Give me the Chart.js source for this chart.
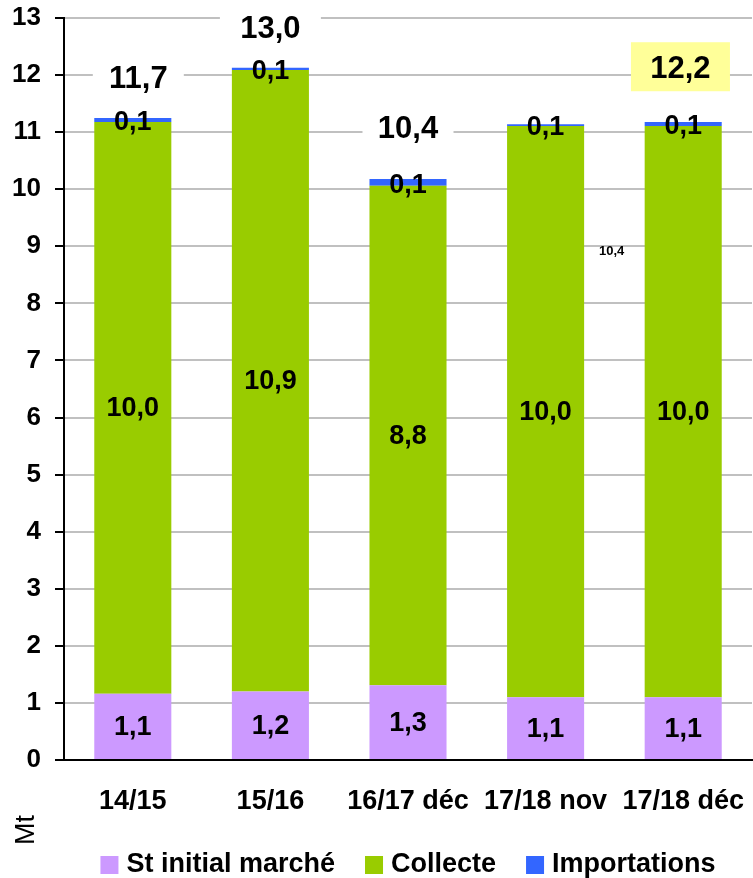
<!DOCTYPE html>
<html>
<head>
<meta charset="utf-8">
<script src="https://cdn.jsdelivr.net/npm/chart.js@4/dist/chart.umd.min.js"></script>
<style>
  html, body { margin: 0; padding: 0; background: #fff; }
  #wrap { width: 753px; height: 878px; position: relative; }
</style>
</head>
<body>
<div id="wrap"><canvas id="c" width="753" height="878"></canvas></div>
<script>
const categories = ['14/15', '15/16', '16/17 déc', '17/18 nov', '17/18 déc'];
const stInitial = [1.16, 1.20, 1.31, 1.10, 1.10];
const collecte = [10.02, 10.89, 8.75, 10.01, 10.01];
const importations = [0.07, 0.04, 0.12, 0.03, 0.07];
const stLabels = ['1,1', '1,2', '1,3', '1,1', '1,1'];
const collecteLabels = ['10,0', '10,9', '8,8', '10,0', '10,0'];
const importLabels = ['0,1', '0,1', '0,1', '0,1', '0,1'];
const totalLabels = ['11,7', '13,0', '10,4', '10,4', '12,2'];
const seriesNames = ['St initial marché', 'Collecte', 'Importations'];
const yTickValues = [0, 1, 2, 3, 4, 5, 6, 7, 8, 9, 10, 11, 12, 13];
const axisTitle = 'Mt';

const FONT = "'Liberation Sans', Arial, Helvetica, sans-serif";
const COLORS = ['#CC99FF', '#99CC00', '#3366FF'];

// layout of total labels (data-unit y position, x offset in categories, style)
const totalStyle = [
  { y: 11.94, dx: 0.04, size: 31, box: '#FFFFFF', bw: 91, bh: 40 },
  { y: 12.81, dx: 0.0, size: 31, box: '#FFFFFF', bw: 101, bh: 40 },
  { y: 11.07, dx: 0.0, size: 31, box: '#FFFFFF', bw: 91, bh: 40 },
  { y: 8.92, dx: 0.48, size: 13, box: null },
  { y: 12.12, dx: -0.02, size: 31, box: '#FFFF99', bw: 99, bh: 49, boxDy: -1.5 }
];

const labelPlugin = {
  id: 'labelPlugin',
  afterDatasetsDraw(chart) {
    const ctx = chart.ctx;
    const xs = chart.scales.x, ys = chart.scales.y;
    const segLabels = [stLabels, collecteLabels, importLabels];
    ctx.save();
    ctx.fillStyle = '#000';
    ctx.textAlign = 'center';
    ctx.textBaseline = 'middle';
    ctx.font = 'bold 27px ' + FONT;
    chart.data.datasets.forEach((ds, di) => {
      const meta = chart.getDatasetMeta(di);
      meta.data.forEach((el, i) => {
        let cy = (el.y + el.base) / 2;
        if (di === 2) cy += 2;
        ctx.fillText(segLabels[di][i], el.x, cy + 1);
      });
    });
    // totals
    totalLabels.forEach((t, i) => {
      const s = totalStyle[i];
      const cx = xs.getPixelForValue(i + s.dx);
      const cy = ys.getPixelForValue(s.y);
      if (s.box) {
        ctx.fillStyle = s.box;
        ctx.fillRect(cx - s.bw / 2, cy - s.bh / 2 + (s.boxDy || 0), s.bw, s.bh);
      }
      ctx.fillStyle = '#000';
      ctx.font = 'bold ' + s.size + 'px ' + FONT;
      ctx.fillText(t, cx, cy + 1);
    });
    ctx.restore();
  },
  afterDraw(chart) {
    const ctx = chart.ctx;
    const area = chart.chartArea;
    ctx.save();
    // axis title
    ctx.fillStyle = '#000';
    ctx.font = '27px ' + FONT;
    ctx.textAlign = 'center';
    ctx.textBaseline = 'middle';
    ctx.translate(27, 830);
    ctx.rotate(-Math.PI / 2);
    ctx.fillText(axisTitle, 0, 0);
    ctx.restore();

    // legend
    ctx.save();
    ctx.font = 'bold 27px ' + FONT;
    ctx.textBaseline = 'middle';
    ctx.textAlign = 'left';
    const box = 18, gapBT = 8, gapItems = 30;
    const widths = seriesNames.map(n => ctx.measureText(n).width);
    let total = 0;
    widths.forEach((w, i) => { total += box + gapBT + w + (i < widths.length - 1 ? gapItems : 0); });
    let x = (area.left + area.right) / 2 - total / 2;
    const cy = 865;
    seriesNames.forEach((n, i) => {
      ctx.fillStyle = COLORS[i];
      ctx.fillRect(x, cy - 9, box, box);
      ctx.fillStyle = '#000';
      ctx.fillText(n, x + box + gapBT, cy);
      x += box + gapBT + widths[i] + gapItems;
    });
    ctx.restore();
  }
};

const ctx = document.getElementById('c').getContext('2d');
new Chart(ctx, {
  type: 'bar',
  data: {
    labels: categories,
    datasets: [
      { label: seriesNames[0], data: stInitial, backgroundColor: COLORS[0] },
      { label: seriesNames[1], data: collecte, backgroundColor: COLORS[1] },
      { label: seriesNames[2], data: importations, backgroundColor: COLORS[2] }
    ]
  },
  options: {
    responsive: false,
    animation: false,
    devicePixelRatio: 1,
    layout: { padding: { top: 18, right: 1, bottom: 0, left: 0 } },
    datasets: { bar: { categoryPercentage: 1.0, barPercentage: 0.56, borderWidth: 0 } },
    plugins: {
      legend: { display: false },
      tooltip: { enabled: false },
      title: { display: false }
    },
    scales: {
      x: {
        stacked: true,
        grid: { display: false, drawTicks: false },
        border: { display: true, color: '#000', width: 2 },
        ticks: {
          color: '#000',
          padding: 25,
          maxRotation: 0,
          autoSkip: false,
          font: { family: FONT, size: 27, weight: 'bold' }
        },
        afterFit(scale) {
          scale.height = 118;
          scale.paddingLeft = 0; scale.paddingRight = 0;
          scale.paddingTop = 0; scale.paddingBottom = 0;
        }
      },
      y: {
        stacked: true,
        min: 0,
        max: 13,
        afterBuildTicks(scale) { scale.ticks = yTickValues.map(v => ({ value: v })); },
        grid: { color: '#C0C0C0', lineWidth: 2, tickColor: '#000', tickLength: 9, tickWidth: 2 },
        border: { display: true, color: '#000', width: 2 },
        ticks: {
          color: '#000',
          padding: 14,
          font: { family: FONT, size: 26, weight: 'bold' },
          callback: v => String(v)
        },
        afterFit(scale) {
          scale.width = 64;
          scale.paddingTop = 0; scale.paddingBottom = 0;
          scale.paddingLeft = 0; scale.paddingRight = 0;
        }
      }
    }
  },
  plugins: [labelPlugin]
});
</script>
</body>
</html>
